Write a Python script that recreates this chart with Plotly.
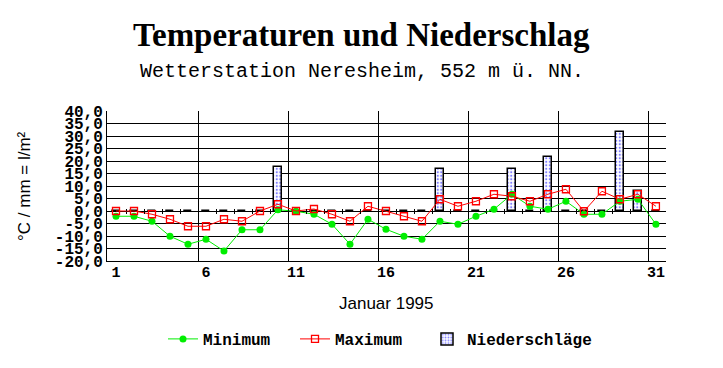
import plotly.graph_objects as go

days = list(range(1, 32))
t_min = [-2.1, -2.1, -4.1, -10.1, -13.3, -11.3, -16.0, -7.5, -7.5, 0.5,
         -0.1, -1.3, -5.3, -13.3, -3.3, -7.3, -10.1, -11.3, -4.1, -5.3,
         -2.1, 0.7, 6.7, 1.9, 0.7, 3.9, -1.3, -1.3, 3.9, 4.7, -5.3]
t_max = [0.0, 0.0, -1.3, -3.3, -6.1, -6.1, -3.3, -4.1, 0.0, 2.7,
         0.0, 0.8, -1.3, -4.1, 1.9, 0.0, -2.1, -4.1, 4.7, 1.9,
         3.9, 6.7, 5.9, 3.9, 6.7, 8.7, -0.1, 7.9, 4.7, 6.7, 1.9]
precip = [0, 0, 0, 0, 0, 0, 0, 0, 0, 17.5,
          0, 0, 0, 0, 0, 0, 0, 0, 17.0, 0,
          0, 0, 17.0, 0, 21.5, 0, 0, 0, 31.5, 8.0, 0]

x_label_days = [1, 6, 11, 16, 21, 26, 31]
y_ticks = [-20, -15, -10, -5, 0, 5, 10, 15, 20, 25, 30, 35, 40]
y_ticktext = [f"{v},0" for v in y_ticks]
grid_offset = 0.58
major_grid = [d - 1 + grid_offset for d in [6, 11, 16, 21, 26, 31]]
minor_ticks = [d + grid_offset for d in range(1, 31)]

x_range = [0.5, 31.56]
y_range = [-20, 40]
zero_pos = (0 - y_range[0]) / (y_range[1] - y_range[0])

W, H = 723, 368
ML, MR, MT, MB = 107, 57, 111, 107
PW, PH = W - ML - MR, H - MT - MB

def px_x(px):
    return (px - ML) / PW

def px_y(py):
    return (H - MB - py) / PH

mono_bold = dict(family="Liberation Mono, Courier New, monospace", size=16, color="black", weight="bold")

fig = go.Figure()

fig.add_trace(go.Bar(
    x=days, y=precip, name="Niederschläge", width=0.45, legend="legend3",
    marker=dict(color="white", line=dict(color="black", width=1.5),
                pattern=dict(shape=".", fgcolor="#0000ff", bgcolor="white", size=3.5, solidity=0.3)),
))
fig.add_trace(go.Scatter(
    x=days, y=t_min, name="Minimum", mode="lines+markers", legend="legend",
    line=dict(color="#00ee00", width=1),
    marker=dict(symbol="circle", size=7, color="#00ee00"),
))
fig.add_trace(go.Scatter(
    x=days, y=t_max, name="Maximum", mode="lines+markers", legend="legend2",
    line=dict(color="#ff0000", width=1),
    marker=dict(symbol="square-open", size=7, color="#ff0000", line=dict(width=1.3)),
))

leg_common = dict(orientation="h", yanchor="middle", y=px_y(339), xanchor="left",
                  font=mono_bold, bgcolor="rgba(0,0,0,0)", borderwidth=0)

fig.update_layout(
    width=W, height=H,
    margin=dict(l=ML, r=MR, t=MT, b=MB),
    paper_bgcolor="white", plot_bgcolor="white",
    showlegend=True,
    legend=dict(leg_common, x=px_x(163)),
    legend2=dict(leg_common, x=px_x(295)),
    legend3=dict(leg_common, x=px_x(427)),
    xaxis=dict(range=x_range, tickvals=major_grid, showticklabels=False, ticks="",
               showgrid=True, gridcolor="black", gridwidth=1, zeroline=False,
               showline=True, linecolor="black", linewidth=1),
    xaxis2=dict(range=x_range, overlaying="x", anchor="y", side="bottom",
                tickvals=x_label_days, ticktext=[str(d) for d in x_label_days],
                ticks="", showgrid=False, zeroline=False, showline=False,
                tickfont=dict(family="Liberation Mono, Courier New, monospace", size=15, color="black", weight="bold")),
    xaxis3=dict(range=x_range, overlaying="x", anchor="free", position=zero_pos, side="bottom",
                tickvals=minor_ticks, showticklabels=False, ticks="outside", ticklen=2, tickwidth=1,
                tickcolor="black", showgrid=False, zeroline=False, showline=False),
    xaxis4=dict(range=x_range, overlaying="x", anchor="free", position=zero_pos, side="bottom",
                tickvals=minor_ticks, showticklabels=False, ticks="inside", ticklen=2, tickwidth=1,
                tickcolor="black", showgrid=False, zeroline=False, showline=False),
    yaxis=dict(range=y_range, tickvals=y_ticks, ticktext=y_ticktext, ticks="",
               showgrid=True, gridcolor="black", gridwidth=1, zeroline=False,
               showline=True, linecolor="black", linewidth=1,
               tickfont=mono_bold),
    bargap=0,
)

for ax in ["x2", "x3", "x4"]:
    fig.add_trace(go.Scatter(x=[None], y=[None], xaxis=ax, showlegend=False, hoverinfo="skip"))

fig.add_annotation(text="<b>Temperaturen und Niederschlag</b>", xref="paper", yref="paper",
                   x=px_x(361.5), y=px_y(35), xanchor="center", yanchor="middle", showarrow=False,
                   font=dict(family="Liberation Serif, Times New Roman, serif", size=33, color="black"))
fig.add_annotation(text="Wetterstation Neresheim, 552 m ü. NN.", xref="paper", yref="paper",
                   x=px_x(361.5), y=px_y(71), xanchor="center", yanchor="middle", showarrow=False,
                   font=dict(family="Liberation Mono, Courier New, monospace", size=20, color="black"))
fig.add_annotation(text="Januar 1995", xref="paper", yref="paper",
                   x=0.5, y=px_y(303), xanchor="center", yanchor="middle", showarrow=False,
                   font=dict(family="Liberation Sans, Arial, sans-serif", size=17, color="black"))
fig.add_annotation(text="°C / mm = l/m²", xref="paper", yref="paper",
                   x=px_x(24), y=0.5, xanchor="center", yanchor="middle", showarrow=False,
                   textangle=-90,
                   font=dict(family="Liberation Sans, Arial, sans-serif", size=17, color="black"))

fig.write_html("out.html")
